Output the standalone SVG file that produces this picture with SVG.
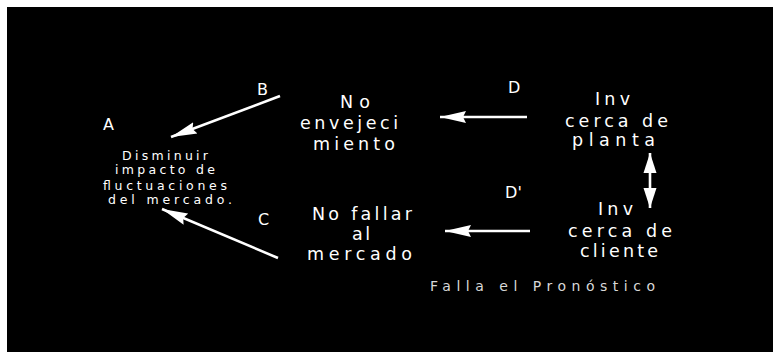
<svg xmlns="http://www.w3.org/2000/svg" width="773" height="352" viewBox="0 0 773 352">
<style>
.t{font-family:"DejaVu Sans","Liberation Sans",sans-serif;fill:#fff;font-size:17.5px}
.s{font-family:"DejaVu Sans","Liberation Sans",sans-serif;fill:#fff;font-size:12.5px}
.l{font-family:"DejaVu Sans","Liberation Sans",sans-serif;fill:#fff;font-size:16px}
.c{font-family:"DejaVu Sans","Liberation Sans",sans-serif;fill:#d8d8d8;font-size:14px}
.a{stroke:#fff;stroke-width:2.6;fill:none}
</style>
<defs>
<marker id="ah" markerUnits="userSpaceOnUse" markerWidth="28" markerHeight="14" refX="26" refY="7" orient="auto-start-reverse">
<path d="M0,1 L26,7 L0,13 L3,7 z" fill="#fff"/>
</marker>
<marker id="ah2" markerUnits="userSpaceOnUse" markerWidth="22" markerHeight="14" refX="20" refY="7" orient="auto-start-reverse">
<path d="M0,0.5 L20,7 L0,13.5 z" fill="#fff"/>
</marker>
</defs>
<rect x="0" y="0" width="773" height="352" fill="#fff"/>
<rect x="7" y="7" width="766" height="345" fill="#000"/>

<g id="nodeA">
<text class="l" x="103" y="130" textLength="13">A</text>
<text class="s" x="122" y="160" textLength="86" lengthAdjust="spacing">Disminuir</text>
<text class="s" x="115" y="174" textLength="100" lengthAdjust="spacing">impacto de</text>
<text class="s" x="103" y="190" textLength="124" lengthAdjust="spacing">fluctuaciones</text>
<text class="s" x="108" y="204" textLength="124" lengthAdjust="spacing">del mercado.</text>
</g>
<g id="nodeB">
<text class="t" x="340" y="108" textLength="30" lengthAdjust="spacing">No</text>
<text class="t" x="300" y="129" textLength="98" lengthAdjust="spacing">envejeci</text>
<text class="t" x="313" y="150" textLength="82" lengthAdjust="spacing">miento</text>
</g>
<g id="nodeC">
<text class="t" x="312" y="220" textLength="100" lengthAdjust="spacing">No fallar</text>
<text class="t" x="352" y="240" textLength="18" lengthAdjust="spacing">al</text>
<text class="t" x="307" y="260" textLength="105" lengthAdjust="spacing">mercado</text>
</g>
<g id="nodeD">
<text class="t" x="595" y="105" textLength="35" lengthAdjust="spacing">Inv</text>
<text class="t" x="565" y="127" textLength="103" lengthAdjust="spacing">cerca de</text>
<text class="t" x="572" y="146" textLength="83" lengthAdjust="spacing">planta</text>
</g>
<g id="nodeD2">
<text class="t" x="598" y="215" textLength="35" lengthAdjust="spacing">Inv</text>
<text class="t" x="568" y="237" textLength="104" lengthAdjust="spacing">cerca de</text>
<text class="t" x="580" y="257" textLength="78" lengthAdjust="spacing">cliente</text>
</g>
<g id="caption">
<text class="c" x="430" y="291" textLength="225" lengthAdjust="spacing">Falla el Pronóstico</text>
</g>

<g id="connectors">
<line class="a" x1="280" y1="96" x2="171" y2="137" marker-end="url(#ah)"/>
<line class="a" x1="278" y1="258" x2="162" y2="209" marker-end="url(#ah)"/>
<line class="a" x1="527" y1="117" x2="440" y2="117" marker-end="url(#ah)"/>
<line class="a" x1="530" y1="231" x2="445" y2="231" marker-end="url(#ah)"/>
<line class="a" x1="650" y1="153" x2="650" y2="208" marker-start="url(#ah2)" marker-end="url(#ah2)"/>
<text class="l" x="257" y="95" textLength="14">B</text>
<text class="l" x="258" y="225" textLength="14">C</text>
<text class="l" x="508" y="93" textLength="15">D</text>
<text class="l" x="505" y="198" textLength="17">D'</text>
</g>
</svg>
